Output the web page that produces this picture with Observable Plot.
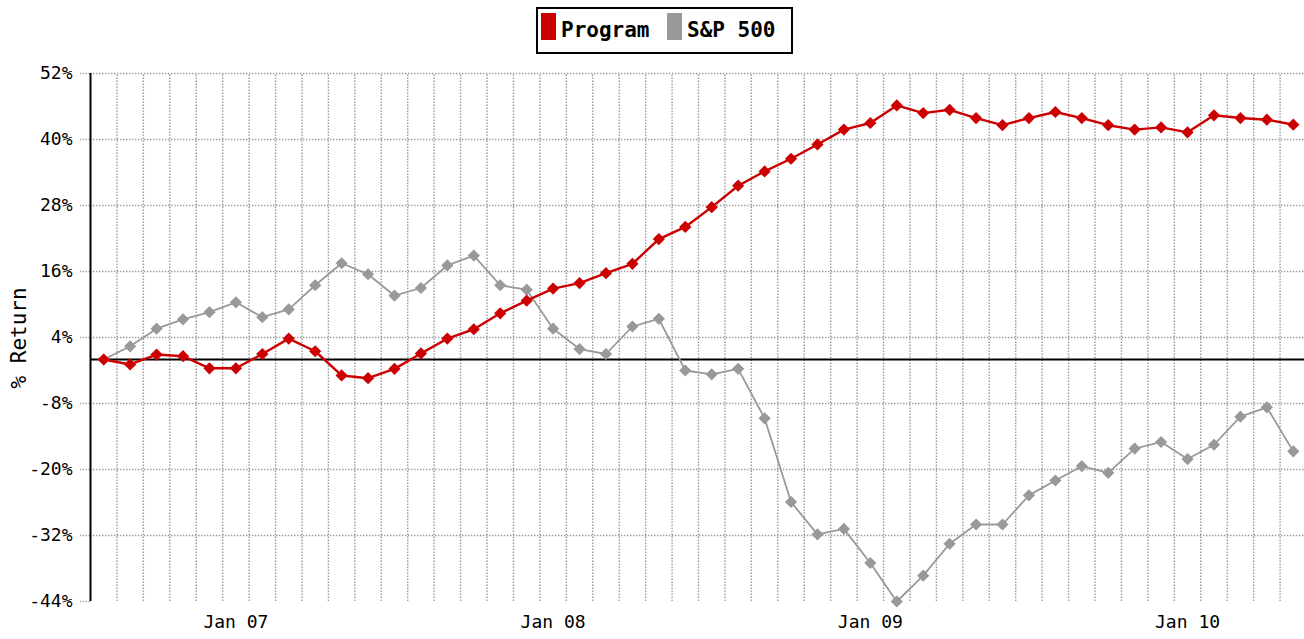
<!DOCTYPE html>
<html>
<head>
<meta charset="utf-8">
<script src="https://cdn.jsdelivr.net/npm/d3@7"></script>
<script src="https://cdn.jsdelivr.net/npm/@observablehq/plot@0.6"></script>
<style>
  body { margin: 0; background: #fff; }
  #legend { position: relative; height: 58px; }
  #legend .box { position: absolute; left: 536px; top: 7px; width: 253px; height: 43px; border: 2px solid #000;
    font-family: "DejaVu Sans Mono", monospace; font-weight: bold; font-size: 21px; color: #000; background: #fff; }
  #legend .sw { position: absolute; top: 4px; width: 15px; height: 27px; }
  #legend .lb { position: absolute; top: 6px; line-height: 30px; white-space: pre; }
  #chart svg { display: block; }
</style>
</head>
<body>
<div id="legend"></div>
<div id="chart"></div>
<script>
const months = [
  "2006-08","2006-09","2006-10","2006-11","2006-12",
  "2007-01","2007-02","2007-03","2007-04","2007-05","2007-06","2007-07","2007-08","2007-09","2007-10","2007-11","2007-12",
  "2008-01","2008-02","2008-03","2008-04","2008-05","2008-06","2008-07","2008-08","2008-09","2008-10","2008-11","2008-12",
  "2009-01","2009-02","2009-03","2009-04","2009-05","2009-06","2009-07","2009-08","2009-09","2009-10","2009-11","2009-12",
  "2010-01","2010-02","2010-03","2010-04","2010-05"
];
const program = [0,-0.9,0.9,0.6,-1.6,-1.6,1.0,3.8,1.5,-2.9,-3.4,-1.7,1.1,3.8,
  5.5,8.4,10.7,12.9,13.9,15.7,17.4,21.9,24.1,27.7,
  31.6,34.2,36.5,39.1,41.8,43.0,
  46.2,44.8,45.4,43.9,42.6,43.9,45.0,43.9,42.6,41.8,42.2,41.3,44.4,43.9,43.6,42.7];
const sp500 = [0,2.4,5.6,7.3,8.6,10.4,7.7,9.1,13.5,17.5,15.5,11.6,13.0,17.1,
  18.9,13.5,12.7,5.6,1.9,1.0,6.0,7.4,-2.0,-2.7,-1.7,-10.7,
  -25.9,-31.8,-30.8,-37.0,
  -44.0,-39.3,-33.5,-30.0,-30.0,-24.7,-22.0,-19.4,-20.6,-16.2,-15.0,-18.1,-15.5,-10.4,-8.7,-16.7];
const seriesNames = ["Program", "S&P 500"];
const seriesColors = ["#cc0000", "#999999"];
const yTicks = [-44, -32, -20, -8, 4, 16, 28, 40, 52];
const yLabel = "% Return";

const rows = [];
months.forEach((m, i) => {
  rows.push({i, month: m, series: seriesNames[1], value: sp500[i]});
});
months.forEach((m, i) => {
  rows.push({i, month: m, series: seriesNames[0], value: program[i]});
});
const janIdx = months.map((m, i) => m.endsWith("-01") ? i : null).filter(v => v !== null);

// legend
const lg = document.getElementById("legend");
lg.innerHTML = `<div class="box">
  <div class="sw" style="left:3px;background:${seriesColors[0]}"></div>
  <div class="lb" style="left:23px">${seriesNames[0]}</div>
  <div class="sw" style="left:129px;background:${seriesColors[1]}"></div>
  <div class="lb" style="left:149px">${seriesNames[1].replace("&","&amp;")}</div>
</div>`;

const gridStyle = {stroke: "#9a9a9a", strokeDasharray: "1.4,1.6", strokeWidth: 1.4};

const chart = Plot.plot({
  width: 1304,
  height: 581,
  marginTop: 15,
  marginBottom: 38,
  marginLeft: 90,
  marginRight: 0,
  style: {fontFamily: "'DejaVu Sans Mono', monospace", fontSize: "18px", color: "#000", background: "#fff", overflow: "visible"},
  x: {domain: [-0.5, months.length - 0.5], range: [90, 1306]},
  y: {domain: [yTicks[0], yTicks[yTicks.length - 1]]},
  marks: [
    Plot.ruleX(months.slice(0, -1), {x: (d, i) => i + 0.5, y1: yTicks[0], y2: yTicks[yTicks.length - 1], ...gridStyle}),
    Plot.ruleY(yTicks.slice(1), {x1: -0.5, x2: months.length - 0.5, ...gridStyle}),
    Plot.axisY({ticks: yTicks, tickFormat: d => d + "%", tickSize: 10, tickPadding: 8, label: null, ...gridStyle}),
    Plot.axisX({ticks: janIdx, tickFormat: i => "Jan " + months[i].slice(2, 4), tickSize: 0, tickPadding: 14, label: null}),
    Plot.ruleX([-0.5], {stroke: "#000", strokeWidth: 2}),
    Plot.ruleY([0], {stroke: "#000", strokeWidth: 2}),
    Plot.line(rows.filter(r => r.series === seriesNames[1]), {x: "i", y: "value", stroke: seriesColors[1], strokeWidth: 1.8}),
    Plot.dot(rows.filter(r => r.series === seriesNames[1]), {x: "i", y: "value", fill: seriesColors[1], symbol: "diamond2", r: 5.5}),
    Plot.line(rows.filter(r => r.series === seriesNames[0]), {x: "i", y: "value", stroke: seriesColors[0], strokeWidth: 2.4}),
    Plot.dot(rows.filter(r => r.series === seriesNames[0]), {x: "i", y: "value", fill: seriesColors[0], symbol: "diamond2", r: 5.5}),
    Plot.text([yLabel], {frameAnchor: "left", rotate: -90, dx: -71, dy: 51, fontSize: 21, fill: "#000"})
  ]
});
document.getElementById("chart").appendChild(chart);
</script>
</body>
</html>
